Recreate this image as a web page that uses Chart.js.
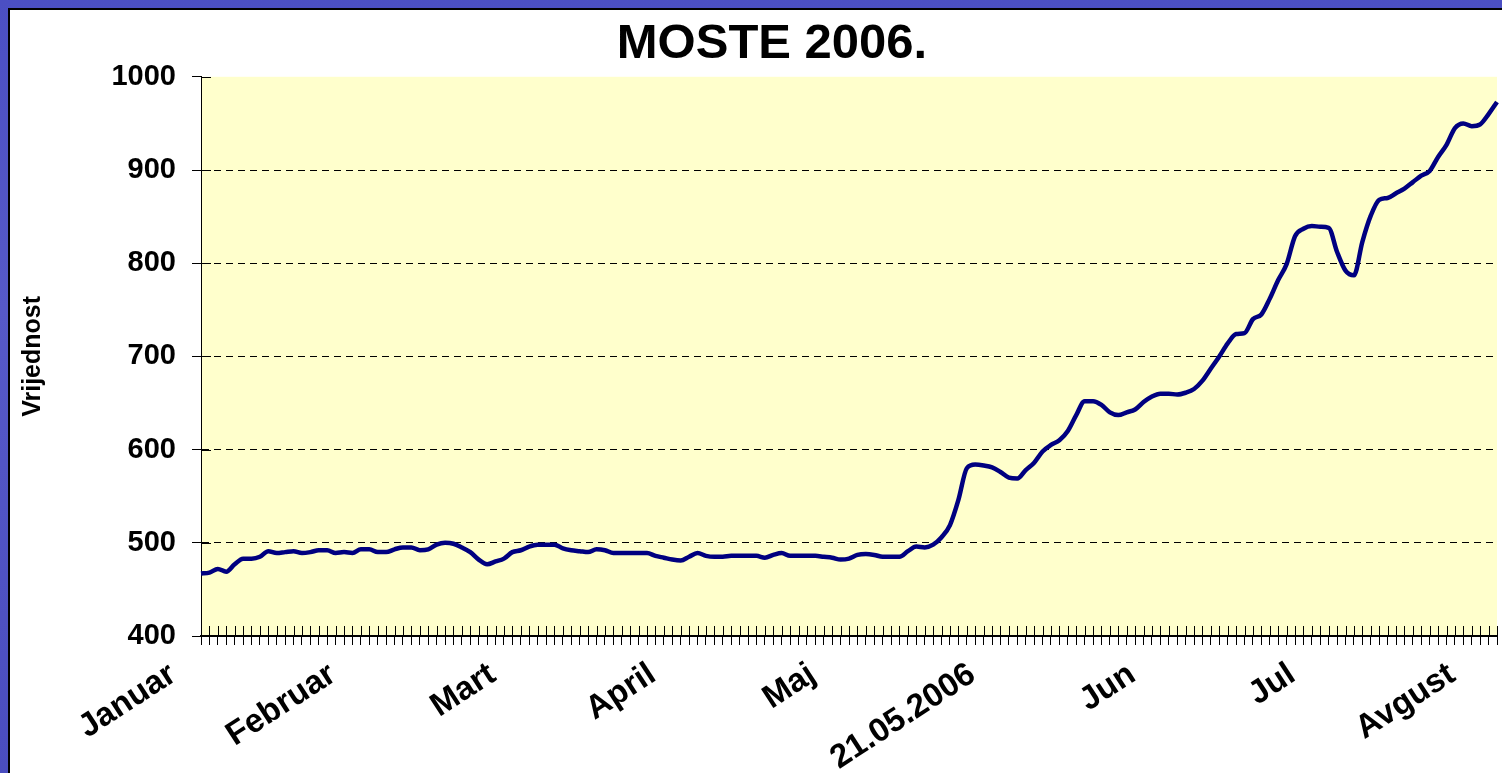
<!DOCTYPE html>
<html>
<head>
<meta charset="utf-8">
<script src="https://cdn.jsdelivr.net/npm/chart.js@4"></script>
<style>
  html, body { margin: 0; padding: 0; overflow: hidden; }
  body { width: 1502px; height: 773px; background: linear-gradient(180deg, #4b4fc3, #5659c8 40%, #4a4dbf); }
  #panel { position: absolute; left: 8px; top: 8px; width: 1492px; height: 763px;
           border-left: 2px solid #000; border-top: 2px solid #000; background: #fff; overflow: hidden; }
  #chart { display: block; }
</style>
</head>
<body>
<div id="panel"><canvas id="chart" width="1524" height="763"></canvas></div>
<script>
// vrijednosti indeksa, jedna tocka po danu trgovanja
const values = [
  467, 468, 472, 469, 477, 483, 483, 485, 491, 489,
  490, 491, 489, 490, 492, 492, 489, 490, 489, 493,
  493, 490, 490, 493, 495, 495, 492, 493, 498, 500,
  499, 495, 490, 482, 477, 480, 483, 490, 492, 496,
  498, 498, 498, 494, 492, 491, 490, 493, 492, 489,
  489, 489, 489, 489, 486, 484, 482, 481, 485, 489,
  486, 485, 485, 486, 486, 486, 486, 484, 487, 489,
  486, 486, 486, 486, 485, 484, 482, 483, 487, 488,
  487, 485, 485, 485, 491, 496, 495, 498, 506, 519,
  546, 580, 584, 583, 581, 576, 570, 569, 578, 586,
  598, 605, 610, 620, 637, 652, 652, 648, 640, 637,
  640, 643, 651, 657, 660, 660, 659, 661, 665, 674,
  687, 700, 714, 724, 725, 740, 745, 762, 782, 799,
  829, 837, 840, 839, 838, 812, 792, 787, 823, 851,
  868, 870, 875, 880, 887, 894, 899, 914, 927, 945,
  950, 947, 949, 960, 973
]
const tickLabels = ['Januar', 'Februar', 'Mart', 'April', 'Maj', '21.05.2006', 'Jun', 'Jul', 'Avgust']
const labelStep = 19
const yMin = 400
const yMax = 1000
const yStep = 100

const categories = values.map((v, i) => i % labelStep === 0 && tickLabels[i / labelStep] ? tickLabels[i / labelStep] : '')

const fontFamily = "'Liberation Sans', Arial, sans-serif"

// zuta pozadina i kratke crtice koje prelaze preko osi
const plotArea = {
  id: 'plotArea',
  beforeDraw(chart) {
    const a = chart.chartArea
    const c = chart.ctx
    c.save()
    c.fillStyle = '#ffffcc'
    c.fillRect(a.left, a.top, a.right - a.left, a.bottom - a.top)
    c.restore()
  },
  afterDraw(chart) {
    const a = chart.chartArea
    const c = chart.ctx
    const x = chart.scales.x
    const y = chart.scales.y
    c.save()
    c.strokeStyle = '#000'
    c.lineWidth = 1
    c.beginPath()
    x.ticks.forEach((t, i) => {
      const px = Math.round(x.getPixelForTick(i)) + 0.5
      c.moveTo(px, a.bottom - 10)
      c.lineTo(px, a.bottom)
    })
    y.ticks.forEach((t, i) => {
      const py = Math.round(y.getPixelForTick(i)) + 0.5
      c.moveTo(a.left, py)
      c.lineTo(a.left + 10, py)
    })
    c.stroke()
    c.restore()
  }
}

new Chart(document.getElementById('chart'), {
  type: 'line',
  data: {
    labels: categories,
    datasets: [{
      data: values,
      borderColor: '#000080',
      borderWidth: 4.5,
      pointRadius: 0,
      cubicInterpolationMode: 'monotone',
      fill: false
    }]
  },
  options: {
    responsive: false,
    animation: false,
    events: [],
    layout: { padding: { left: 37, right: 37, top: 0, bottom: 0 } },
    plugins: {
      legend: { display: false },
      tooltip: { enabled: false },
      title: {
        display: true,
        text: 'MOSTE 2006.',
        color: '#000',
        font: { family: fontFamily, size: 49, weight: 'bold' },
        padding: { top: 5, bottom: 3 }
      }
    },
    scales: {
      x: {
        offset: false,
        grid: { drawOnChartArea: false, drawTicks: true, tickLength: 9, tickColor: '#000' },
        border: { color: '#000', width: 2 },
        ticks: {
          autoSkip: false,
          maxRotation: 33,
          minRotation: 33,
          padding: 10,
          labelOffset: -28,
          color: '#000',
          font: { family: fontFamily, size: 33, weight: 'bold' }
        },
        afterFit(scale) { scale.height = 137 }
      },
      y: {
        min: yMin,
        max: yMax,
        grid: {
          color: ctx => (ctx.tick && (ctx.tick.value === yMin || ctx.tick.value === yMax)) ? 'rgba(0,0,0,0)' : '#000',
          lineWidth: 1,
          tickLength: 9,
          tickColor: '#000'
        },
        border: { color: '#000', width: 1, dash: [7, 5] },
        ticks: {
          stepSize: yStep,
          padding: 16,
          color: '#000',
          font: { family: fontFamily, size: 29, weight: 'bold' },
          callback: v => String(v)
        },
        title: {
          display: true,
          text: 'Vrijednost',
          color: '#000',
          font: { family: fontFamily, size: 25, weight: 'bold' },
          padding: { top: -29, bottom: 0 }
        },
        afterFit(scale) { scale.width = 154 }
      }
    }
  },
  plugins: [plotArea]
})
</script>
</body>
</html>
